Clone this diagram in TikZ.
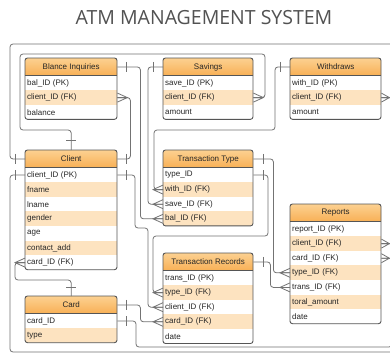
\documentclass[tikz,border=0pt]{standalone}
\usepackage{fontspec}
\setmainfont{Liberation Sans}
\newfontfamily\titlefont{Open Sans}
\usetikzlibrary{calc}

\definecolor{hdrtop}{HTML}{FCD191}
\definecolor{hdrbot}{HTML}{F8B056}
\definecolor{rowshade}{HTML}{FDE3C0}
\definecolor{edge}{HTML}{555555}
\definecolor{wire}{HTML}{737373}
\definecolor{ink}{HTML}{262626}

\tikzset{
  conn/.style={draw=wire, line width=0.8pt, rounded corners=3pt},
  tickline/.style={draw=wire, line width=0.8pt},
  boxedge/.style={draw=edge, line width=0.9pt, rounded corners=2.5pt},
  cellfont/.style={font=\fontsize{8}{9.5}\selectfont, text=ink},
}

% entity table: name, x, y, width, number of rows, title, rows
\newcommand\ertable[7]{%
  \pgfmathsetmacro\erbottom{#3+17.5+#5*14.6}
  \pgfmathsetmacro\ertw{#4-4}
  \begin{scope}
    \clip[rounded corners=2.5pt] (#2,#3) rectangle ({#2+#4},\erbottom);
    \fill[white] (#2,#3) rectangle ({#2+#4},\erbottom);
    \shade[top color=hdrtop, bottom color=hdrbot] (#2,#3) rectangle ({#2+#4},{#3+17.5});
    \foreach \r [count=\i] in {#7} {
      \pgfmathsetmacro\ytop{#3+17.5+(\i-1)*14.6}
      \ifodd\i\else\fill[rowshade] (#2,\ytop) rectangle ({#2+#4},{\ytop+14.6});\fi
      \node[cellfont, anchor=north west, inner xsep=2pt, inner ysep=0pt,
            minimum height=14.6pt, text width=\ertw pt, align=left] (#1-\i) at (#2,\ytop) {\r};
    }
  \end{scope}
  \node[cellfont, anchor=north west, inner sep=0pt, minimum width=#4pt,
        minimum height=17.5pt] (#1-h) at (#2,#3) {#6};
  \draw[boxedge] (#2,#3) rectangle ({#2+#4},\erbottom);
  \draw[draw=edge, line width=0.6pt] (#2,{#3+17.5}) -- ({#2+#4},{#3+17.5});
}

% crow's foot (many) at a box side; #2 is the reach, negative on the left side
\newcommand\crow[2]{%
  \draw[tickline] ($(#1)+(0,-4.5)$) -- ($(#1)+(#2,0)$) -- ($(#1)+(0,4.5)$)
              (#1) -- ($(#1)+(#2,0)$);
}
% single bar (one) across a horizontal or a vertical connector
\newcommand\barh[2]{\draw[tickline] ($(#1)+(#2,-5)$) -- ($(#1)+(#2,5)$);}
\newcommand\barv[2]{\draw[tickline] ($(#1)+(-5,#2)$) -- ($(#1)+(5,#2)$);}

\begin{document}
\begin{tikzpicture}[x=1pt, y=-1pt]
\useasboundingbox (0,0) rectangle (390,356);
\clip (0,0) rectangle (390,356);
\fill[white] (0,0) rectangle (390,356);

\node[font=\titlefont\fontsize{19.5}{22}\selectfont, text=black!68, anchor=base]
  (title) at (204,24) {ATM MANAGEMENT SYSTEM};

% entities
\ertable{bi}{25}{58}{92}{3}{Blance Inquiries}{bal\_ID (PK), client\_ID (FK), balance}
\ertable{sv}{163}{58}{90}{3}{Savings}{save\_ID (PK), client\_ID (FK), amount}
\ertable{wd}{290}{58}{91}{3}{Withdraws}{with\_ID (PK), client\_ID (FK), amount}
\ertable{cl}{25}{150}{92}{7}{Client}{client\_ID (PK), fname, lname, gender, age, contact\_add, card\_ID (FK)}
\ertable{tt}{163}{150}{90}{4}{Transaction Type}{type\_ID, with\_ID (FK), save\_ID (FK), bal\_ID (FK)}
\ertable{rp}{290}{204}{91}{7}{Reports}{report\_ID (PK), client\_ID (FK), card\_ID (FK), type\_ID (FK), trans\_ID (FK), toral\_amount, date}
\ertable{cd}{25}{296}{92}{2}{Card}{card\_ID, type}
\ertable{tr}{163}{253}{90}{5}{Transaction Records}{trans\_ID (PK), type\_ID (FK), client\_ID (FK), card\_ID (FK), date}

% routing points
\coordinate (ftl) at (10,44);
\coordinate (ftr) at (394,44);
\coordinate (fbl) at (10,352);
\coordinate (fbr) at (394,352);
\coordinate (cbl) at (136,347);
\coordinate (cbr) at (392,347);
\coordinate (c4a) at (20,130);
\coordinate (c4b) at (20,54);
\coordinate (c4c) at (265,54);
\coordinate (c6a) at (135,228);
\coordinate (c6b) at (148,228);
\coordinate (c9a) at (275,130);
\coordinate (c9b) at (154,130);
\coordinate (c11a) at (268,236);
\coordinate (c11b) at (153,236);
\coordinate (c13a) at (15,280);

% client relations
\draw[conn] (cl-h.west) -| (ftl) -- (ftr) |- (wd-2.east);
\barh{cl-h.west}{-10} \crow{wd-2.east}{8}
\draw[conn] (cl-1.west) -| (fbl) -- (fbr) |- (rp-2.east);
\barh{cl-1.west}{-10} \crow{rp-2.east}{8}
\draw[conn] (cl-h.north) |- (c4a) -- (c4b) -- (c4c) |- (sv-2.east);
\barv{cl-h.north}{-10} \crow{sv-2.east}{10}
\draw[conn] (cl-h.east) -- ++(13,0) |- (bi-2.east);
\barh{cl-h.east}{9} \crow{bi-2.east}{10}
\draw[conn] (cl-1.east) -| (c6a) -- (c6b) |- (tr-3.west);
\barh{cl-1.east}{9} \crow{tr-3.west}{-10}
\draw[conn] (cl-7.west) -| (c13a) -| (cd-h.north);
\crow{cl-7.west}{-10} \barv{cd-h.north}{-9}

% account relations
\draw[conn] (bi-h.east) -- ++(23,0) |- (tt-4.west);
\barh{bi-h.east}{9} \crow{tt-4.west}{-10}
\draw[conn] (sv-h.west) -- ++(-15,0) |- (tt-3.west);
\barh{sv-h.west}{-10} \crow{tt-3.west}{-10}
\draw[conn] (wd-h.west) -| (c9a) -- (c9b) |- (tt-2.west);
\barh{wd-h.west}{-10} \crow{tt-2.west}{-10}

% transactions and reports
\draw[conn] (tt-h.east) -- ++(20,0) |- (rp-4.west);
\barh{tt-h.east}{10} \crow{rp-4.west}{-10}
\draw[conn] (tt-1.east) -| (c11a) -- (c11b) |- (tr-2.west);
\barh{tt-1.east}{10} \crow{tr-2.west}{-10}
\draw[conn] (tr-h.east) -- ++(17,0) |- (rp-5.west);
\barh{tr-h.east}{10} \crow{rp-5.west}{-10}

% card relations
\draw[conn] (cd-h.east) -- ++(23,0) |- (tr-4.west);
\barh{cd-h.east}{9} \crow{tr-4.west}{-10}
\draw[conn] (cd-1.east) -| (cbl) -- (cbr) |- (rp-3.east);
\barh{cd-1.east}{9} \crow{rp-3.east}{8}
\end{tikzpicture}
\end{document}
